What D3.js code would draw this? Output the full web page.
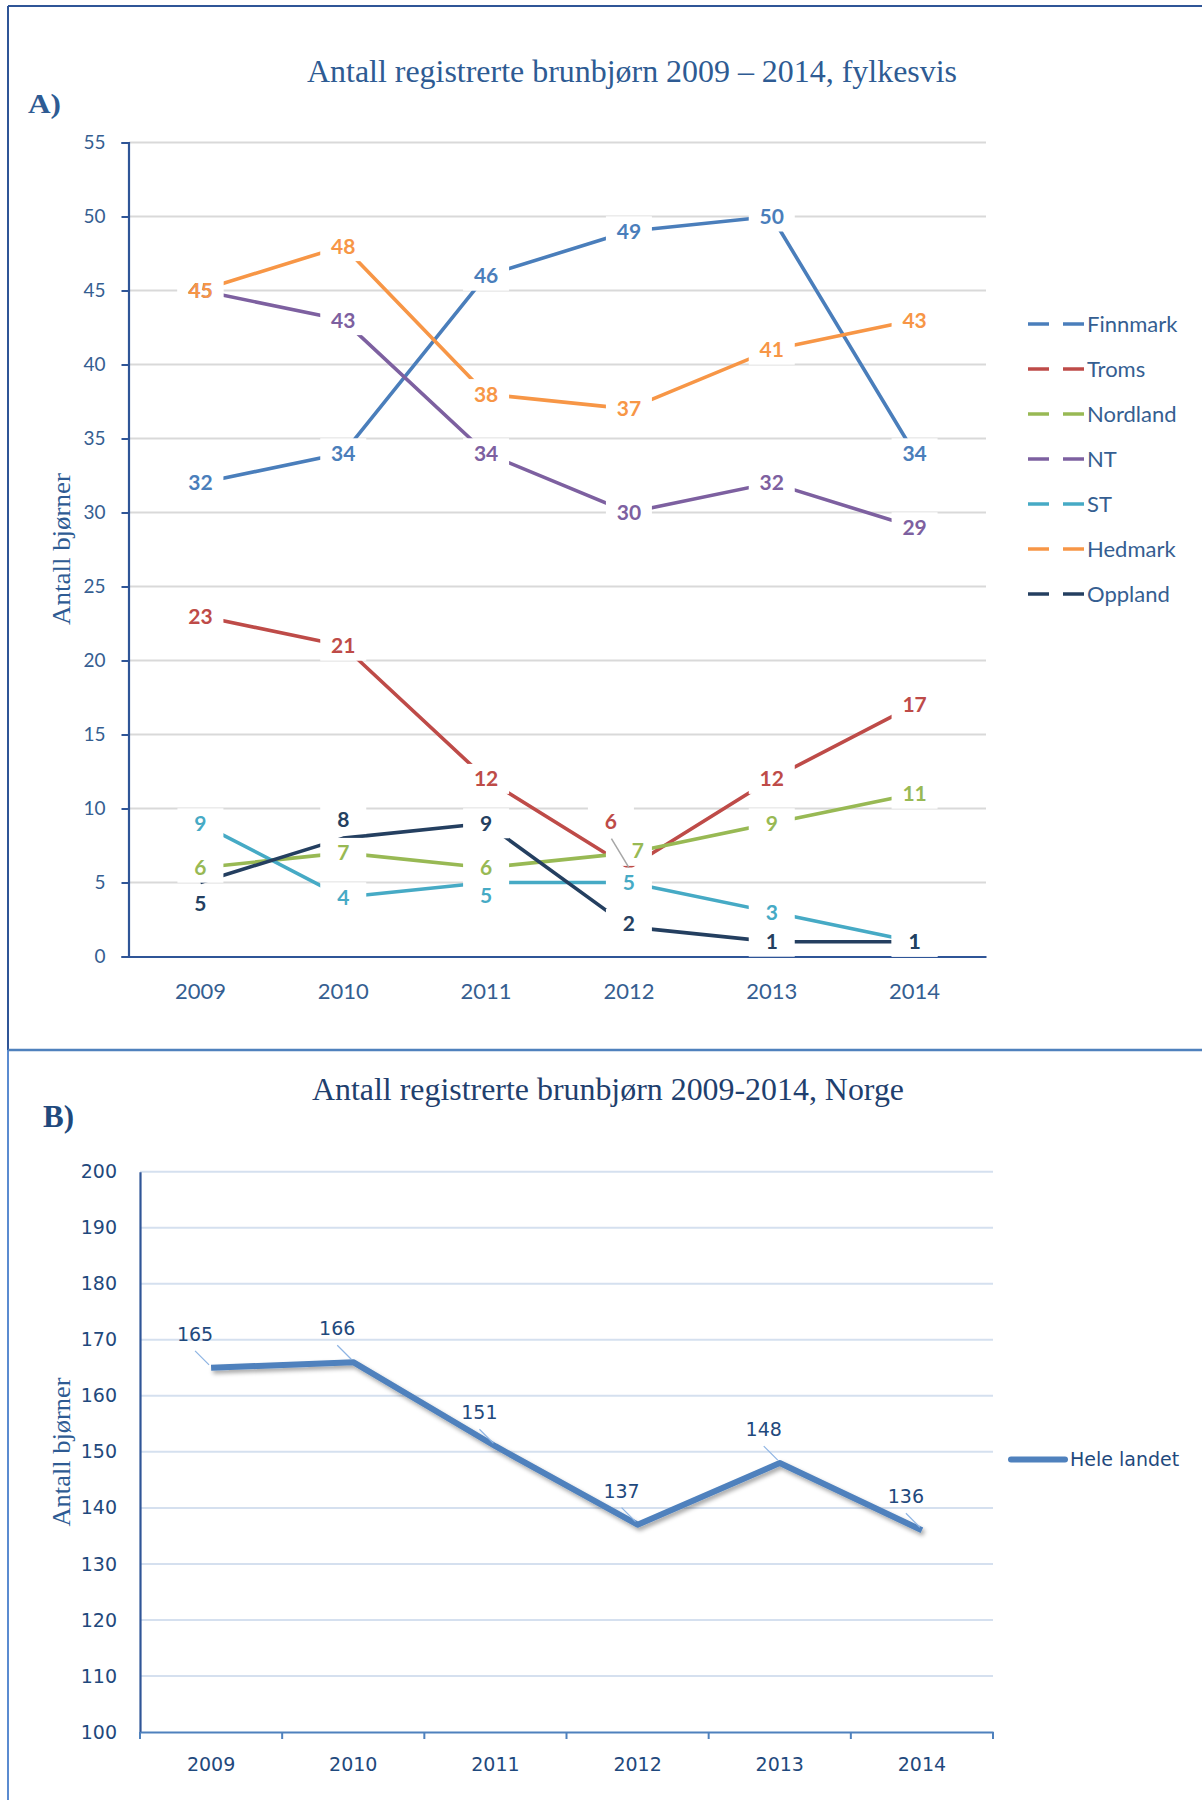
<!DOCTYPE html>
<html><head><meta charset="utf-8">
<script src="https://cdn.jsdelivr.net/npm/d3@7"></script>
<style>body{margin:0;background:#fff} svg{display:block}</style>
</head><body><svg id="c" width="1202" height="1800"></svg>
<script>
// ---------- data ----------
const years = ["2009","2010","2011","2012","2013","2014"];
const countyNames = ["Finnmark","Troms","Nordland","NT","ST","Hedmark","Oppland"];
const finnmark = [32,34,46,49,50,34];
const troms    = [23,21,12,6,12,17];
const nordland = [6,7,6,7,9,11];
const nt       = [45,43,34,30,32,29];
const st       = [9,4,5,5,3,1];
const hedmark  = [45,48,38,37,41,43];
const oppland  = [5,8,9,2,1,1];
const yTicksA  = [0,5,10,15,20,25,30,35,40,45,50,55];
const totalNorway = [165,166,151,137,148,136];
const totalName = "Hele landet";
const yTicksB  = [100,110,120,130,140,150,160,170,180,190,200];

const countyValues = [finnmark,troms,nordland,nt,st,hedmark,oppland];
const countyColors = ["#4A7EBB","#BE4B48","#98B954","#7D60A0","#46AAC5","#F79646","#243F60"];
// label nudges (layout only): [dxText, dyText, leader]
const nudges = {"Oppland|0":[0,21],"Oppland|1":[0,-19],"ST|2":[0,13],
  "Troms|3":[-18,-46,true],"Nordland|3":[9,-2],"Oppland|3":[0,-3]};

const svg = d3.select("#c");

// ---------- frame ----------
svg.append("line").attr("x1",8).attr("x2",1202).attr("y1",6).attr("y2",6).attr("stroke","#2F5597").attr("stroke-width",2);
svg.append("line").attr("x1",8).attr("x2",8).attr("y1",6).attr("y2",1050).attr("stroke","#2F5597").attr("stroke-width",2);
svg.append("line").attr("x1",8).attr("x2",8).attr("y1",1050).attr("y2",1800).attr("stroke","#5B8BD0").attr("stroke-width",2);
svg.append("line").attr("x1",8).attr("x2",1202).attr("y1",1050).attr("y2",1050).attr("stroke","#4F81BD").attr("stroke-width",2.5);

// ---------- chart A ----------
const xA = d3.scaleBand().domain(years).range([129,986]);
const yA = d3.scaleLinear().domain([0,55]).range([956.5,142.5]);
const cx = (s,y)=>s(y)+s.bandwidth()/2;

svg.append("text").attr("x",307).attr("y",82).attr("textLength",650).attr("lengthAdjust","spacingAndGlyphs")
  .attr("font-family","Liberation Serif").attr("font-size",31).attr("fill","#2E5B93")
  .text("Antall registrerte brunbjørn 2009 – 2014, fylkesvis");
svg.append("text").attr("x",28).attr("y",113).attr("textLength",33).attr("lengthAdjust","spacingAndGlyphs")
  .attr("font-family","Liberation Serif").attr("font-weight","bold").attr("font-size",27).attr("fill","#2E5B93").text("A)");
svg.append("text").attr("transform","translate(70,549) rotate(-90)").attr("text-anchor","middle")
  .attr("textLength",152).attr("lengthAdjust","spacingAndGlyphs")
  .attr("font-family","Liberation Serif").attr("font-size",26).attr("fill","#2E5B93").text("Antall bjørner");

// gridlines
svg.append("g").selectAll("line").data(yTicksA.filter(d=>d>0)).join("line")
  .attr("x1",129).attr("x2",986).attr("y1",d=>yA(d)).attr("y2",d=>yA(d))
  .attr("stroke","#D9D9D9").attr("stroke-width",2);

// y axis
const gyA = svg.append("g").attr("transform","translate(128.5,0)")
  .call(d3.axisLeft(yA).tickValues(yTicksA).tickSize(7).tickPadding(16));
gyA.select(".domain").attr("stroke","#2F5597").attr("stroke-width",2.2);
gyA.selectAll(".tick line").attr("stroke","#2F5597").attr("stroke-width",2);
gyA.selectAll("text").attr("font-family","Lato").attr("font-size",19).attr("fill","#355E91");

// lines
const lineA = d3.line().x((d,i)=>cx(xA,years[i])).y(d=>yA(d));
countyValues.forEach((vals,k)=>{
  svg.append("path").datum(vals).attr("d",lineA).attr("fill","none")
    .attr("stroke",countyColors[k]).attr("stroke-width",3.6).attr("stroke-linejoin","round");
});

// x axis (drawn after lines)
const gxA = svg.append("g").attr("transform","translate(0,956.5)")
  .call(d3.axisBottom(xA).tickSize(0).tickPadding(27));
gxA.select(".domain").attr("stroke","#2F5597").attr("stroke-width",2.2);
gxA.selectAll("text").attr("font-family","Lato").attr("font-size",22).attr("fill","#355E91");

// data labels
const boxLayer = svg.append("g");
const leaderLayer = svg.append("g");
const textLayer = svg.append("g");
countyValues.forEach((vals,k)=>{
  const name = countyNames[k];
  vals.forEach((v,i)=>{
    const px = cx(xA,years[i]), py = yA(v);
    const n = nudges[name+"|"+i] || [0,0];
    const tx = px + n[0], ty = py + n[1];
    const bx = n[2] ? tx : px;
    if(n[2]){
      leaderLayer.append("line").attr("x1",px-17.5).attr("y1",py-29).attr("x2",px).attr("y2",py)
        .attr("stroke","#A6A6A6").attr("stroke-width",1.5);
    }
    boxLayer.append("rect").attr("x",bx-23).attr("y",ty-15).attr("width",46).attr("height",30).attr("fill","#fff");
    textLayer.append("text").attr("x",tx).attr("y",ty).attr("dy","0.36em").attr("text-anchor","middle")
      .attr("font-family","Lato").attr("font-weight","bold").attr("font-size",21)
      .attr("fill",countyColors[k]).text(v);
  });
});

// legend A
countyNames.forEach((name,k)=>{
  const y = 324 + k*45;
  const g = svg.append("g");
  g.append("line").attr("x1",1028).attr("x2",1049).attr("y1",y).attr("y2",y).attr("stroke",countyColors[k]).attr("stroke-width",3.5);
  g.append("line").attr("x1",1063).attr("x2",1084).attr("y1",y).attr("y2",y).attr("stroke",countyColors[k]).attr("stroke-width",3.5);
  g.append("text").attr("x",1087).attr("y",y).attr("dy","0.36em").attr("font-family","Lato").attr("font-size",22)
    .attr("fill","#355E91").text(name);
});

// ---------- chart B ----------
const xB = d3.scaleBand().domain(years).range([140,993]);
const yB = d3.scaleLinear().domain([100,200]).range([1732,1171.7]);

svg.append("text").attr("x",312).attr("y",1100).attr("textLength",592).attr("lengthAdjust","spacingAndGlyphs")
  .attr("font-family","Liberation Serif").attr("font-size",31).attr("fill","#1F3F6E")
  .text("Antall registrerte brunbjørn 2009-2014, Norge");
svg.append("text").attr("x",43).attr("y",1127).attr("textLength",31).attr("lengthAdjust","spacingAndGlyphs")
  .attr("font-family","Liberation Serif").attr("font-weight","bold").attr("font-size",31).attr("fill","#1F497D").text("B)");
svg.append("text").attr("transform","translate(70,1452) rotate(-90)").attr("text-anchor","middle")
  .attr("textLength",149).attr("lengthAdjust","spacingAndGlyphs")
  .attr("font-family","Liberation Serif").attr("font-size",26).attr("fill","#2E5B93").text("Antall bjørner");

svg.append("g").selectAll("line").data(yTicksB.filter(d=>d>100)).join("line")
  .attr("x1",140).attr("x2",993).attr("y1",d=>yB(d)).attr("y2",d=>yB(d))
  .attr("stroke","#D5E0EF").attr("stroke-width",2);

const gyB = svg.append("g").attr("transform","translate(140,0)")
  .call(d3.axisLeft(yB).tickValues(yTicksB).tickSize(0).tickPadding(23));
gyB.select(".domain").attr("stroke","#2F5597").attr("stroke-width",2.2);
gyB.selectAll("text").attr("font-family","DejaVu Sans").attr("font-size",19).attr("fill","#1F497D");

const gxB = svg.append("g").attr("transform","translate(0,1732)")
  .call(d3.axisBottom(xB).tickSize(0).tickPadding(25.5));
gxB.select(".domain").attr("stroke","#4F81BD").attr("stroke-width",2.2);
gxB.selectAll("text").attr("font-family","DejaVu Sans").attr("font-size",19).attr("fill","#1F497D");
// boundary ticks
const bounds = years.map(y=>xB(y)).concat([xB(years[years.length-1])+xB.bandwidth()]);
svg.append("g").selectAll("line").data(bounds).join("line")
  .attr("x1",d=>d).attr("x2",d=>d).attr("y1",1732).attr("y2",1739)
  .attr("stroke","#4F81BD").attr("stroke-width",2);

const defs = svg.append("defs");
const f = defs.append("filter").attr("id","sh").attr("x","-10%").attr("y","-10%").attr("width","120%").attr("height","130%");
f.append("feDropShadow").attr("dx",2).attr("dy",3).attr("stdDeviation",2).attr("flood-color","#000").attr("flood-opacity",0.35);

const lineB = d3.line().x((d,i)=>cx(xB,years[i])).y(d=>yB(d));
svg.append("path").datum(totalNorway).attr("d",lineB).attr("fill","none")
  .attr("stroke","#4F81BD").attr("stroke-width",6).attr("stroke-linejoin","round").attr("filter","url(#sh)");

totalNorway.forEach((v,i)=>{
  const px = cx(xB,years[i]), py = yB(v);
  svg.append("line").attr("x1",px-16).attr("y1",py-17).attr("x2",px-2).attr("y2",py-3)
    .attr("stroke","#8EB4E3").attr("stroke-width",1.2);
  svg.append("text").attr("x",px-16).attr("y",py-34).attr("dy","0.36em").attr("text-anchor","middle")
    .attr("font-family","DejaVu Sans").attr("font-size",19).attr("fill","#1F497D").text(v);
});

// legend B
svg.append("line").attr("x1",1011).attr("x2",1065).attr("y1",1459.5).attr("y2",1459.5)
  .attr("stroke","#4F81BD").attr("stroke-width",6).attr("stroke-linecap","round");
svg.append("text").attr("x",1070).attr("y",1459.5).attr("dy","0.36em").attr("font-family","DejaVu Sans")
  .attr("font-size",19).attr("fill","#1F497D").text(totalName);
</script>
</body></html>
